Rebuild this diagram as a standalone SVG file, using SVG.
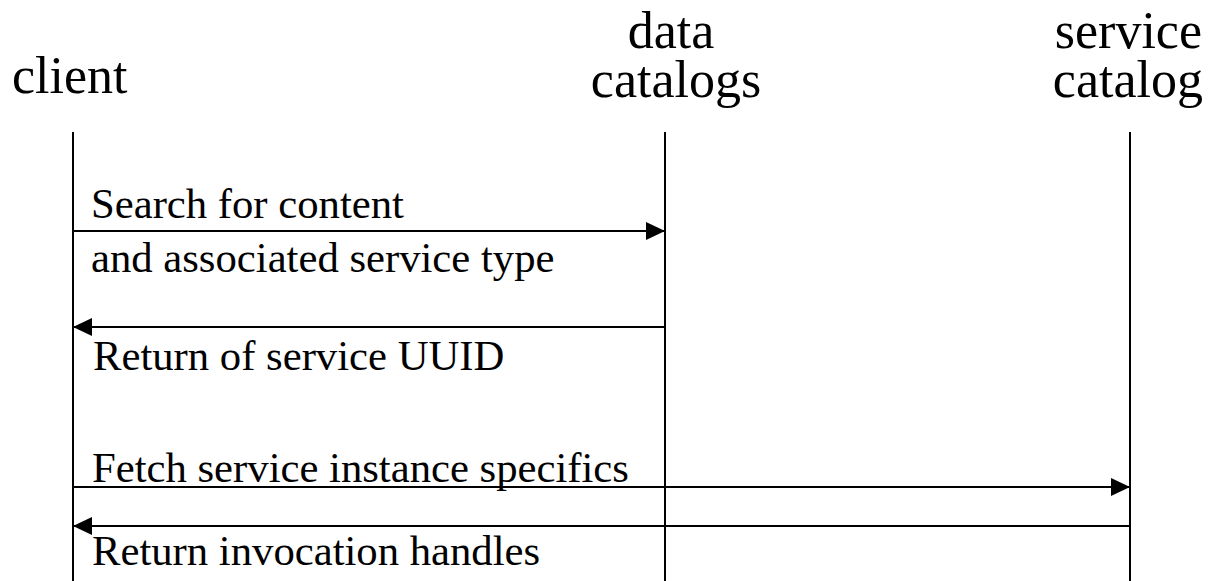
<svg xmlns="http://www.w3.org/2000/svg" width="1211" height="581" viewBox="0 0 1211 581">
<style>
.h{font-family:"Liberation Serif","Times New Roman",serif;font-size:52px;fill:#000}
.l{font-family:"Liberation Serif","Times New Roman",serif;font-size:42.7px;fill:#000}
.ln{stroke:#000;stroke-width:2;fill:none}
</style>
<defs>
<marker id="ah" markerWidth="19" markerHeight="18" refX="19" refY="9" orient="auto" markerUnits="userSpaceOnUse">
<path d="M0,0 L19,9 L0,18 Z" fill="#000"/>
</marker>
</defs>
<rect width="1211" height="581" fill="#fff"/>
<g id="client">
<text class="h" x="12" y="93">client</text>
<line class="ln" x1="73" y1="132" x2="73" y2="581"/>
</g>
<g id="data-catalogs">
<text class="h" text-anchor="middle"><tspan x="671" y="48">data</tspan><tspan x="676" y="97">catalogs</tspan></text>
<line class="ln" x1="665" y1="132" x2="665" y2="581"/>
</g>
<g id="service-catalog">
<text class="h" text-anchor="end"><tspan x="1202" y="48">service</tspan><tspan x="1203" y="97">catalog</tspan></text>
<line class="ln" x1="1130" y1="132" x2="1130" y2="581"/>
</g>
<g id="connectors">
<line class="ln" x1="73" y1="231" x2="665" y2="231" marker-end="url(#ah)"/>
<line class="ln" x1="665" y1="327" x2="73" y2="327" marker-end="url(#ah)"/>
<line class="ln" x1="73" y1="487" x2="1130" y2="487" marker-end="url(#ah)"/>
<line class="ln" x1="1130" y1="526" x2="73" y2="526" marker-end="url(#ah)"/>
<text class="l" x="91" y="218">Search for content</text>
<text class="l" x="91" y="272">and associated service type</text>
<text class="l" x="93" y="370">Return of service UUID</text>
<text class="l" x="92" y="482">Fetch service instance specifics</text>
<text class="l" x="92" y="565">Return invocation handles</text>
</g>
</svg>
